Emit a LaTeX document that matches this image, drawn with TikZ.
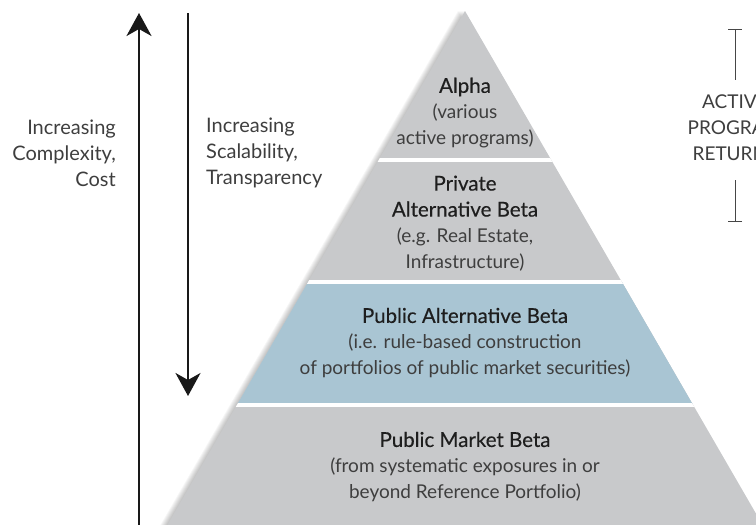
\documentclass[tikz,border=0pt]{standalone}
\usepackage{fontspec}
\setmainfont{Lato}
\newfontfamily\headfont{Lato}[FakeBold=0.35]
\usetikzlibrary{arrows.meta}
\definecolor{bandgray}{RGB}{200,201,203}
\definecolor{bandblue}{RGB}{169,197,211}
\definecolor{inkdark}{RGB}{30,30,30}
\definecolor{inksoft}{RGB}{62,62,62}
\definecolor{rulegray}{RGB}{70,70,70}
\newcommand{\bandtitle}[1]{{\headfont\fontsize{20.5}{26}\selectfont\color{inkdark}#1}}
\begin{document}
\begin{tikzpicture}[x=1pt,y=-1pt,
  txt/.style={inner sep=0pt, font=\fontsize{19}{26}\selectfont, text=inksoft},
  sidetxt/.style={inner sep=0pt, font=\fontsize{20}{26}\selectfont, text=inksoft},
  bandtext/.style={txt, align=center},
  axisarrow/.style={line width=2.3pt, draw=black!90, -{Stealth[length=23pt,width=25pt,inset=7pt]}},
  bracketline/.style={line width=0.9pt, draw=rulegray},
  shadowlayer/.style={fill=black, opacity=0.035},
  separator/.style={draw=white, line width=3.2pt}]
\useasboundingbox (0,0) rectangle (756,525);
\clip (0,0) rectangle (756,525);

% pyramid corners
\coordinate (apex) at (465,11);
\coordinate (bl) at (167.4,525);
\coordinate (br) at (762.6,525);

% soft shadow on the left flank
\foreach \s in {1,...,7}
  \fill[shadowlayer] ([xshift=-\s pt]apex) -- ([xshift=-\s pt]bl) -- ([xshift=-\s pt]br) -- cycle;

% pyramid bands
\begin{scope}
  \clip (apex) -- (bl) -- (br) -- cycle;
  \fill[bandgray] (0,0) rectangle (770,530);
  \fill[bandblue] (0,282) rectangle (770,405);
  \draw[separator] (0,160) -- (770,160);
  \draw[separator] (0,282) -- (770,282);
  \draw[separator] (0,405) -- (770,405);
\end{scope}

% band labels
\node[bandtext] (alpha) at (465,113)
  {\bandtitle{Alpha}\\(various\\active programs)};
\node[bandtext] (private) at (465,223.5)
  {\bandtitle{Private}\\\bandtitle{Alternative Beta}\\(e.g. Real Estate,\\Infrastructure)};
\node[bandtext] (pubalt) at (465,343)
  {\bandtitle{Public Alternative Beta}\\(i.e. rule-based construction\\of portfolios of public market securities)};
\node[bandtext] (pubmkt) at (465,467)
  {\bandtitle{Public Market Beta}\\(from systematic exposures in or\\beyond Reference Portfolio)};

% axis arrows
\coordinate (upfoot) at (139,530);
\coordinate (uptip) at (139,13);
\coordinate (downtop) at (188,13);
\coordinate (downtip) at (188,396);
\draw[axisarrow] (upfoot) -- (uptip);
\draw[axisarrow] (downtop) -- (downtip);

\node[sidetxt, align=right, anchor=east] (costlabel) at (116,153)
  {Increasing\\Complexity,\\Cost};
\node[sidetxt, align=left, anchor=west] (scalelabel) at (206,153)
  {Increasing\\Scalability,\\Transparency};

% active returns bracket
\coordinate (brtop) at (735,29);
\coordinate (brtopend) at (735,80);
\coordinate (brbotstart) at (735,180);
\coordinate (brbot) at (735,222);
\draw[bracketline, {Bar[width=14pt]}-] (brtop) -- (brtopend);
\draw[bracketline, -{Bar[width=14pt]}] (brbotstart) -- (brbot);
\node[bandtext] (activelabel) at (735,128)
  {ACTIVE\\PROGRAM\\RETURNS};
\end{tikzpicture}
\end{document}
